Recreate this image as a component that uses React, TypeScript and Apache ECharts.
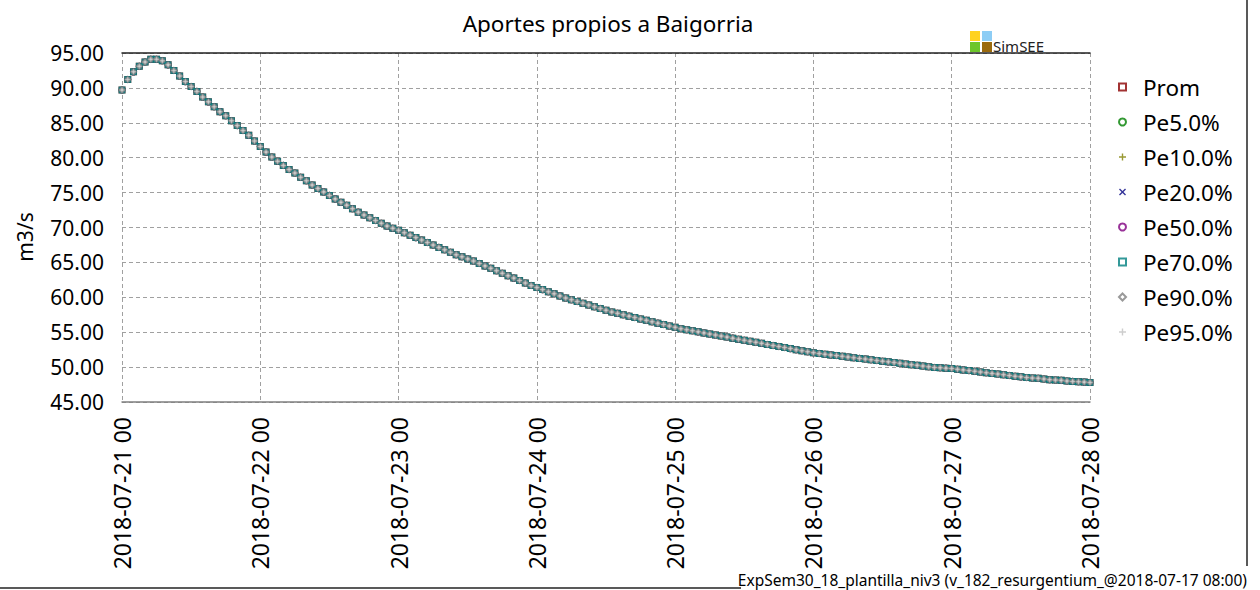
import React, { useEffect, useRef } from "react";
import * as echarts from "echarts";

const TITLE = "Aportes propios a Baigorria";
const Y_NAME = "m3/s";
const FOOTER = "ExpSem30_18_plantilla_niv3 (v_182_resurgentium_@2018-07-17 08:00)";

// Tick labels (every 24 hours)
const dayLabels = [
  "2018-07-21 00", "2018-07-22 00", "2018-07-23 00", "2018-07-24 00",
  "2018-07-25 00", "2018-07-26 00", "2018-07-27 00", "2018-07-28 00",
];

// Hourly values (m3/s), 2018-07-21 00 .. 2018-07-28 00
const day1 = [89.7, 91.2, 92.3, 93.1, 93.7, 94.1, 94.1, 93.9, 93.3, 92.5, 91.7, 90.9,
  90.2, 89.5, 88.7, 88.0, 87.3, 86.6, 86.0, 85.3, 84.6, 83.9, 83.2, 82.4];
const day2 = [81.6, 80.8, 80.1, 79.5, 78.9, 78.3, 77.8, 77.2, 76.7, 76.1, 75.6, 75.1,
  74.6, 74.1, 73.6, 73.2, 72.7, 72.2, 71.8, 71.4, 71.0, 70.6, 70.2, 69.9];
const day3 = [69.6, 69.25, 68.9, 68.55, 68.2, 67.85, 67.5, 67.15, 66.8, 66.45, 66.1, 65.8,
  65.5, 65.2, 64.85, 64.5, 64.15, 63.8, 63.45, 63.1, 62.75, 62.4, 62.05, 61.7];
const day4 = [61.4, 61.1, 60.8, 60.5, 60.2, 59.9, 59.65, 59.4, 59.15, 58.9, 58.65, 58.4,
  58.15, 57.9, 57.7, 57.5, 57.3, 57.1, 56.9, 56.7, 56.5, 56.3, 56.1, 55.9];
const day5 = [55.7, 55.5, 55.35, 55.2, 55.05, 54.9, 54.75, 54.6, 54.45, 54.3, 54.15, 54.0,
  53.85, 53.7, 53.55, 53.4, 53.25, 53.1, 52.95, 52.8, 52.65, 52.5, 52.35, 52.2];
const day6 = [52.05, 51.95, 51.85, 51.75, 51.65, 51.55, 51.45, 51.35, 51.25, 51.15, 51.05, 50.95,
  50.85, 50.75, 50.65, 50.55, 50.45, 50.35, 50.25, 50.15, 50.05, 49.95, 49.9, 49.85];
const day7 = [49.8, 49.7, 49.6, 49.5, 49.4, 49.3, 49.2, 49.1, 49.0, 48.9, 48.8, 48.7,
  48.6, 48.5, 48.45, 48.4, 48.3, 48.2, 48.15, 48.1, 48.0, 47.95, 47.9, 47.85, 47.8];

const values = [...day1, ...day2, ...day3, ...day4, ...day5, ...day6, ...day7];

const seriesNames = ["Prom", "Pe5.0%", "Pe10.0%", "Pe20.0%", "Pe50.0%", "Pe70.0%", "Pe90.0%", "Pe95.0%"];
const seriesColors = ["#8b0000", "#008000", "#808000", "#000080", "#800080", "#008080", "#808080", "#c0c0c0"];

const PLUS = "path://M4,0 L6,0 L6,4 L10,4 L10,6 L6,6 L6,10 L4,10 L4,6 L0,6 L0,4 L4,4 Z";
const CROSS = "path://M0,1.4 L1.4,0 L5,3.6 L8.6,0 L10,1.4 L6.4,5 L10,8.6 L8.6,10 L5,6.4 L1.4,10 L0,8.6 L3.6,5 Z";
const seriesSymbols = ["emptyRect", "emptyCircle", PLUS, CROSS, "emptyCircle", "emptyRect", "emptyDiamond", PLUS];

// hourly category labels built from the day labels
const categories: string[] = [];
dayLabels.forEach((d, i) => {
  const date = d.slice(0, 10);
  const hours = i < dayLabels.length - 1 ? 24 : 1;
  for (let h = 0; h < hours; h++) categories.push(`${date} ${String(h).padStart(2, "0")}`);
});

const FONT = "Noto Sans";

export default function App() {
  const ref = useRef<HTMLDivElement>(null);
  useEffect(() => {
    if (!ref.current) return;
    const chart = echarts.init(ref.current, undefined, { renderer: "svg" });
    const option: any = {
      animation: false,
      backgroundColor: "#ffffff",
      textStyle: { fontFamily: FONT },
      title: {
        text: TITLE,
        left: 603,
        textAlign: "center",
        top: 7,
        textStyle: { fontFamily: FONT, fontSize: 22.5, fontWeight: "normal", color: "#000" },
      },
      legend: {
        orient: "vertical",
        left: 1118,
        top: 75,
        itemWidth: 7,
        itemHeight: 7,
        itemGap: 11,
        padding: 0,
        textStyle: { fontFamily: FONT, fontSize: 22.5, lineHeight: 24, color: "#000", padding: [0, 0, 0, 12] },
        data: seriesNames,
      },
      grid: { left: 122, right: 170, top: 53, bottom: 188, containLabel: false },
      xAxis: [
        {
          type: "category",
          data: categories,
          boundaryGap: false,
          axisLine: { show: true, lineStyle: { color: "#7f7f7f", width: 1.5 } },
          axisTick: { show: false },
          axisLabel: {
            interval: 23,
            rotate: 90,
            fontFamily: FONT,
            fontSize: 23,
            color: "#000",
            margin: 15,
          },
          splitLine: {
            show: true,
            interval: 23,
            lineStyle: { color: "#a0a0a0", type: [4, 3], width: 1 },
          },
        },
        {
          type: "category",
          data: categories,
          boundaryGap: false,
          position: "top",
          axisLine: { show: true, lineStyle: { color: "#222", width: 1.5 } },
          axisTick: { show: false },
          axisLabel: { show: false },
          splitLine: { show: false },
        },
      ],
      yAxis: {
        type: "value",
        min: 45,
        max: 95,
        interval: 5,
        axisLine: { show: false },
        axisTick: { show: false },
        axisLabel: {
          formatter: (v: number) => v.toFixed(2),
          fontFamily: FONT,
          fontSize: 21,
          color: "#000",
          margin: 18,
        },
        splitLine: { show: true, lineStyle: { color: "#a0a0a0", type: [4, 3], width: 1 } },
      },
      series: seriesNames.map((name, i) => ({
        name,
        type: "scatter",
        xAxisIndex: 0,
        data: values,
        symbol: seriesSymbols[i],
        symbolSize: 5,
        itemStyle: { color: seriesColors[i], borderWidth: 1.2 },
      })),
      graphic: [
        { type: "text", x: 25, y: 237, rotation: Math.PI / 2,
          style: { text: Y_NAME, fontFamily: FONT, fontSize: 21, fill: "#000", align: "center", verticalAlign: "middle" } },
        { type: "line", shape: { x1: 1247, y1: 0, x2: 1247, y2: 566 }, style: { stroke: "#222", lineWidth: 1.5 } },
        { type: "line", shape: { x1: 0, y1: 588, x2: 741, y2: 588 }, style: { stroke: "#222", lineWidth: 1.5 } },
        { type: "text", x: 1247, y: 580,
          style: { text: FOOTER, fontFamily: FONT, fontSize: 15.5, fill: "#000", align: "right", verticalAlign: "middle" } },
        { type: "rect", shape: { x: 992, y: 38, width: 56, height: 16 }, style: { fill: "#fff" } },
        { type: "rect", shape: { x: 970, y: 31, width: 10, height: 10 }, style: { fill: "#ffd21f" } },
        { type: "rect", shape: { x: 982, y: 31, width: 10, height: 10 }, style: { fill: "#8dcdf5" } },
        { type: "rect", shape: { x: 970, y: 42, width: 10, height: 10 }, style: { fill: "#6cc62b" } },
        { type: "rect", shape: { x: 982, y: 42, width: 10, height: 10 }, style: { fill: "#9a6a0e" } },
        { type: "text", x: 993, y: 46,
          style: { text: "SimSEE", fontFamily: FONT, fontSize: 15, fill: "#222", align: "left", verticalAlign: "middle" } },
      ],
    };
    chart.setOption(option);
    return () => chart.dispose();
  }, []);
  return (
    <div
      ref={ref}
      style={{ position: "absolute", left: 0, top: 0, width: 1260, height: 590 }}
    />
  );
}
